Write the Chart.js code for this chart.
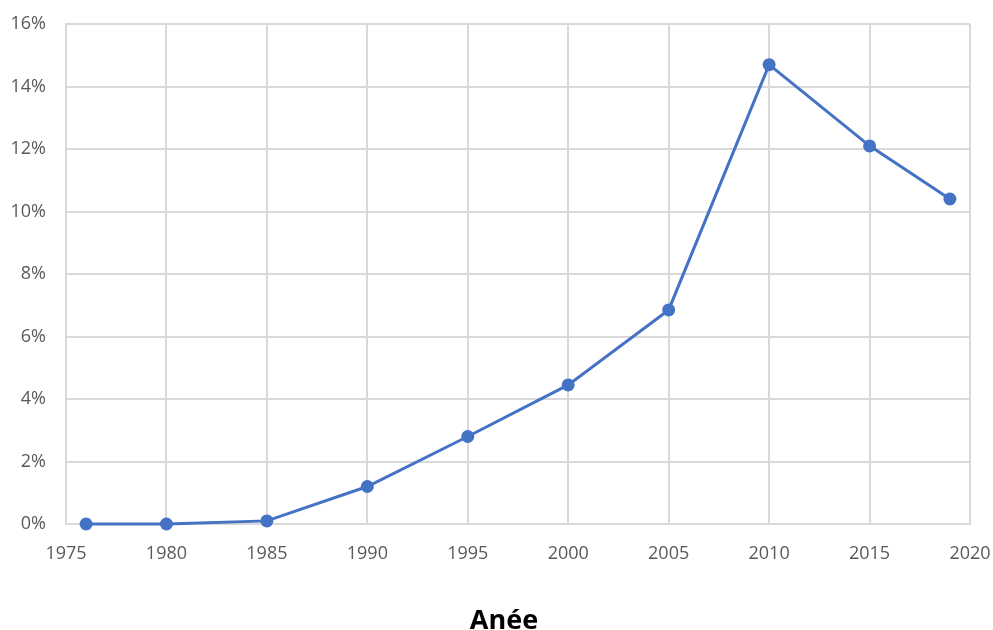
<!DOCTYPE html>
<html>
<head>
<meta charset="utf-8">
<script src="https://cdn.jsdelivr.net/npm/chart.js@4/dist/chart.umd.min.js"></script>
<style>
  html, body { margin: 0; padding: 0; background: #fff; }
  #wrap { width: 993px; height: 630px; }
</style>
</head>
<body>
<div id="wrap"><canvas id="mycanvas" width="993" height="630"></canvas></div>
<script>
// share per year, in percent
var years = [1976, 1980, 1985, 1990, 1995, 2000, 2005, 2010, 2015, 2019];
var shares = [0, 0, 0.1, 1.2, 2.8, 4.45, 6.85, 14.7, 12.1, 10.4];
var xTitle = 'Anée';

var points = [];
for (var i in years) {
	points.push({ x: years[i], y: shares[i] });
}

var gridColor = '#d9d9d9';
var tickFont = { family: 'Open Sans', size: 18 };

// axis title drawn by hand so it sits centred on the whole canvas
var titlePlugin = {
	id: 'pageTitle',
	afterDraw: function(chart) {
		var c = chart.ctx;
		c.save();
		c.font = 'bold 27px "Open Sans"';
		c.fillStyle = '#000';
		c.textAlign = 'center';
		c.textBaseline = 'alphabetic';
		c.fillText(xTitle, 504, 629);
		c.restore();
	}
};

var ctx = document.getElementById('mycanvas');
var lineChart = new Chart(ctx, {
	type: 'line',
	data: {
		datasets: [{
			label: 'Part',
			data: points,
			borderColor: '#4472c4',
			backgroundColor: '#4472c4',
			borderWidth: 3,
			pointRadius: 6.5,
			pointHoverRadius: 6.5,
			pointBorderWidth: 0,
			fill: false,
			clip: false,
			tension: 0
		}]
	},
	options: {
		responsive: false,
		animation: false,
		layout: { padding: { left: 0, right: 23, top: 24, bottom: 0 } },
		plugins: { legend: { display: false }, tooltip: { enabled: false } },
		scales: {
			x: {
				type: 'linear',
				min: 1975,
				max: 2020,
				grid: { color: gridColor, lineWidth: 2, drawTicks: false },
				border: { color: gridColor, width: 2 },
				ticks: {
					stepSize: 5,
					padding: 19,
					color: '#595959',
					font: tickFont,
					maxRotation: 0,
					callback: function(v) { return String(v); }
				},
				afterFit: function(scale) {
					scale.height = 106;
					scale.paddingLeft = 0;
					scale.paddingRight = 0;
				}
			},
			y: {
				min: 0,
				max: 16,
				grid: { color: gridColor, lineWidth: 2, drawTicks: false },
				border: { color: gridColor, width: 2 },
				ticks: {
					stepSize: 2,
					padding: 20,
					color: '#595959',
					font: tickFont,
					callback: function(v) { return v + '%'; }
				},
				afterFit: function(scale) {
					scale.width = 66;
					scale.paddingTop = 0;
					scale.paddingBottom = 0;
				}
			}
		}
	},
	plugins: [titlePlugin]
});
</script>
</body>
</html>
